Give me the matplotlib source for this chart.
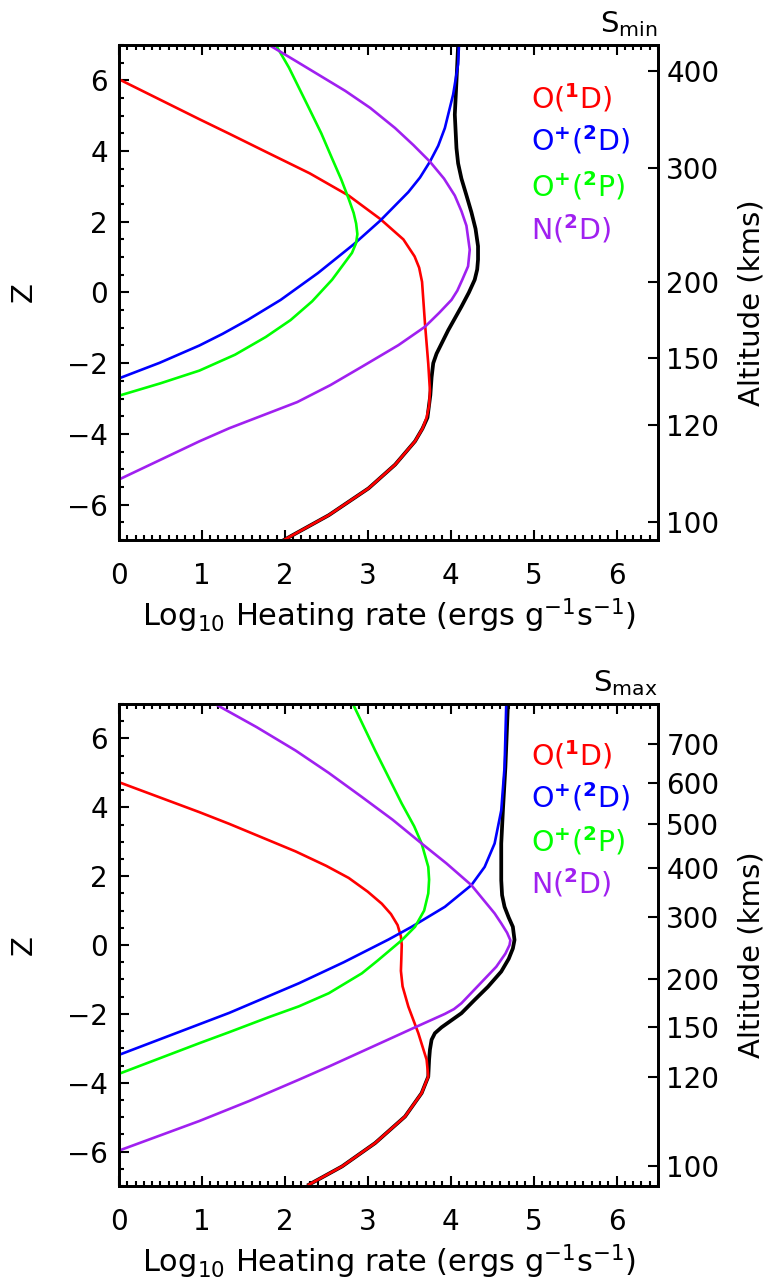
import matplotlib
matplotlib.use("Agg")
import matplotlib.pyplot as plt
from matplotlib.ticker import MultipleLocator

plt.rcParams['font.family'] = ['DejaVu Sans']
plt.rcParams['mathtext.fontset'] = 'dejavusans'

# ---------------- Solar minimum (S_min) profiles: Z vs log10 heating rate ----------------
Z_O1D_MIN = [6.03, 4.90, 4.49, 3.98, 3.37, 2.74, 2.08, 1.50, 1.02, 0.70, 0.30, -0.20,
             -0.87, -2.02, -2.78, -3.20, -3.54, -3.85, -4.21, -4.87, -5.54, -6.30, -7.0]
H_O1D_MIN = [0.0, 0.97, 1.33, 1.77, 2.30, 2.77, 3.15, 3.43, 3.565, 3.62, 3.655, 3.67,
             3.69, 3.73, 3.75, 3.74, 3.71, 3.66, 3.57, 3.33, 3.01, 2.53, 1.99]

Z_OP2D_MIN = [-2.43, -1.99, -1.50, -1.17, -0.78, -0.21, 0.55, 1.36, 2.03, 2.84, 3.25,
              3.70, 4.15, 4.65, 5.6, 6.46, 7.0]
H_OP2D_MIN = [0.0, 0.49, 0.97, 1.25, 1.55, 1.95, 2.40, 2.83, 3.15, 3.49, 3.63,
              3.75, 3.85, 3.93, 4.03, 4.09, 4.10]

Z_OP2P_MIN = [-2.92, -2.57, -2.21, -1.76, -1.26, -0.78, -0.25, 0.36, 0.74, 1.12, 1.40,
              1.65, 1.95, 2.25, 2.65, 3.20, 3.79, 4.50, 5.22, 6.36, 7.05]
H_OP2P_MIN = [0.0, 0.5, 0.97, 1.4, 1.77, 2.07, 2.33, 2.57, 2.69, 2.81, 2.86,
              2.875, 2.86, 2.83, 2.77, 2.68, 2.57, 2.44, 2.29, 2.05, 1.88]

Z_N2D_MIN = [-5.29, -4.21, -3.84, -3.10, -2.62, -2.10, -1.49, -0.97, -0.58, -0.21, 0.05,
             0.36, 0.74, 1.21, 1.89, 2.30, 2.74, 3.22, 3.70, 4.17, 4.65, 5.22, 5.70,
             6.55, 7.0]
H_N2D_MIN = [0.0, 0.97, 1.33, 2.15, 2.55, 2.93, 3.37, 3.69, 3.86, 4.01, 4.08,
             4.14, 4.21, 4.23, 4.19, 4.13, 4.05, 3.92, 3.75, 3.55, 3.33, 3.03, 2.73,
             2.13, 1.81]

Z_TOT_MIN = [-7.0, -6.30, -5.54, -4.87, -4.21, -3.85, -3.54, -2.9, -2.4, -2.0, -1.73,
             -1.40, -1.07, -0.40, 0.0, 0.36, 0.65, 0.93, 1.31, 1.80, 2.27, 2.75, 3.22,
             3.65, 4.08, 5.03, 5.98, 7.0]
H_TOT_MIN = [1.99, 2.53, 3.01, 3.33, 3.57, 3.66, 3.72, 3.755, 3.77, 3.79, 3.83,
             3.90, 3.97, 4.13, 4.22, 4.29, 4.32, 4.33, 4.33, 4.30, 4.25, 4.19, 4.13,
             4.09, 4.07, 4.05, 4.07, 4.09]

ALT_MIN_KM = [100, 120, 150, 200, 300, 400]
ALT_MIN_Z = [-6.49, -3.75, -1.86, 0.31, 3.53, 6.27]

# ---------------- Solar maximum (S_max) profiles ----------------
Z_O1D_MAX = [4.73, 3.86, 3.52, 2.72, 2.30, 1.95, 1.55, 1.20, 0.90, 0.58, 0.25, 0.0,
             -0.40, -0.75, -1.20, -1.79, -2.56, -3.33, -3.82, -4.30, -4.98, -5.75,
             -6.43, -6.96]
H_O1D_MAX = [0.0, 0.97, 1.33, 2.13, 2.50, 2.77, 3.00, 3.17, 3.28, 3.36, 3.40, 3.41,
             3.405, 3.40, 3.42, 3.49, 3.61, 3.71, 3.73, 3.65, 3.45, 3.09,
             2.69, 2.29]

Z_OP2D_MAX = [-3.19, -2.30, -1.97, -1.11, -0.50, 0.16, 0.53, 1.11, 1.74, 2.27,
              2.95, 3.91, 5.17, 6.96]
H_OP2D_MAX = [0.0, 0.97, 1.33, 2.17, 2.71, 3.25, 3.53, 3.93, 4.25, 4.41,
              4.53, 4.61, 4.65, 4.67]

Z_OP2P_MAX = [-3.74, -2.85, -2.53, -2.10, -1.78, -1.40, -0.82, -0.45, 0.14, 0.53,
              1.00, 1.50, 1.90, 2.27, 2.95, 3.45, 4.11, 5.65, 6.96]
H_OP2P_MAX = [0.0, 0.97, 1.33, 1.80, 2.17, 2.53, 2.93, 3.12, 3.41, 3.57,
              3.68, 3.73, 3.74, 3.73, 3.65, 3.56, 3.41, 3.09, 2.83]

Z_N2D_MAX = [-5.97, -5.11, -4.53, -3.91, -3.53, -2.61, -2.39, -2.0, -1.86, -1.69,
             -1.16, -0.63, -0.25, 0.0, 0.14, 0.36, 0.63, 0.92, 1.74, 2.37, 2.95,
             3.64, 4.30, 5.0, 5.65, 6.33, 6.96]
H_N2D_MAX = [0.0, 0.97, 1.57, 2.17, 2.53, 3.37, 3.57, 3.93, 4.04, 4.13,
             4.34, 4.55, 4.66, 4.71, 4.72, 4.68, 4.61, 4.53, 4.25, 3.95, 3.65,
             3.30, 2.93, 2.53, 2.13, 1.66, 1.19]

Z_TOT_MAX = [-6.96, -6.43, -5.75, -4.98, -4.30, -3.82, -3.33, -3.04, -2.75, -2.56,
             -2.39, -1.98, -1.59, -1.21, -0.77, -0.40, -0.10, 0.15, 0.53, 0.80, 1.11,
             1.45, 1.88, 2.95, 3.91, 5.17, 6.96]
H_TOT_MAX = [2.29, 2.69, 3.09, 3.45, 3.65, 3.73, 3.74, 3.75, 3.77, 3.81,
             3.89, 4.13, 4.29, 4.45, 4.61, 4.70, 4.75, 4.77, 4.75, 4.70, 4.65,
             4.62, 4.61, 4.61, 4.63, 4.66, 4.69]

ALT_MAX_KM = [100, 120, 150, 200, 300, 400, 500, 600, 700]
ALT_MAX_Z = [-6.41, -3.83, -2.37, -0.99, 0.82, 2.25, 3.51, 4.70, 5.85]

SPECIES = [r"O($^{\mathbf{1}}$D)", r"O$^{\mathbf{+}}$($^{\mathbf{2}}$D)",
           r"O$^{\mathbf{+}}$($^{\mathbf{2}}$P)", r"N($^{\mathbf{2}}$D)"]
COLORS = ["#ff0000", "#0000ff", "#00ff00", "#a020f0"]

PANELS = [
    dict(tag=r"S$_{\mathregular{min}}$",
         curves=[(Z_O1D_MIN, H_O1D_MIN), (Z_OP2D_MIN, H_OP2D_MIN),
                 (Z_OP2P_MIN, H_OP2P_MIN), (Z_N2D_MIN, H_N2D_MIN)],
         total=(Z_TOT_MIN, H_TOT_MIN), alt=(ALT_MIN_Z, ALT_MIN_KM),
         rect=[0.1543, 0.5798, 0.6991, 0.3852]),
    dict(tag=r"S$_{\mathregular{max}}$",
         curves=[(Z_O1D_MAX, H_O1D_MAX), (Z_OP2D_MAX, H_OP2D_MAX),
                 (Z_OP2P_MAX, H_OP2P_MAX), (Z_N2D_MAX, H_N2D_MAX)],
         total=(Z_TOT_MAX, H_TOT_MAX), alt=(ALT_MAX_Z, ALT_MAX_KM),
         rect=[0.1543, 0.0770, 0.6991, 0.3751]),
]

W, H = 771, 1285
fig = plt.figure(figsize=(W / 100, H / 100), dpi=100)

TICK_FS = 20
LABEL_FS = 21
XLABEL_FS = 22
LEGEND_FS = 20.5
SPINE_LW = 2.0

for p in PANELS:
    ax = fig.add_axes(p["rect"])
    zt, ht = p["total"]
    ax.plot(ht, zt, color="black", lw=2.7, zorder=2, solid_joinstyle="round")
    for (zz, hh), col in zip(p["curves"], COLORS):
        ax.plot(hh, zz, color=col, lw=1.9, zorder=3, solid_joinstyle="round")

    ax.set_xlim(0, 6.5)
    ax.set_ylim(-7, 7)
    ax.xaxis.set_major_locator(MultipleLocator(1))
    ax.xaxis.set_minor_locator(MultipleLocator(0.1))
    ax.yaxis.set_major_locator(MultipleLocator(2))
    ax.yaxis.set_minor_locator(MultipleLocator(0.5))
    ax.tick_params(axis="both", which="both", direction="in", width=1.5,
                   labelsize=TICK_FS)
    ax.tick_params(axis="x", which="both", top=True, bottom=True)
    ax.tick_params(axis="x", which="major", length=7.5, pad=16)
    ax.tick_params(axis="x", which="minor", length=3.8)
    ax.tick_params(axis="y", which="both", left=True, right=False)
    ax.tick_params(axis="y", which="major", length=7.5, pad=8)
    ax.tick_params(axis="y", which="minor", length=3.8)
    for s in ax.spines.values():
        s.set_linewidth(SPINE_LW)

    ax_h_px = p["rect"][3] * H
    ax_w_px = p["rect"][2] * W
    ax.set_xlabel(r"Log$_{10}$ Heating rate (ergs g$^{-1}$s$^{-1}$)",
                  fontsize=XLABEL_FS, va="center")
    ax.xaxis.set_label_coords(0.5, -76 / ax_h_px)
    ax.set_ylabel("Z", fontsize=LABEL_FS, va="center")
    ax.yaxis.set_label_coords(-95 / ax_w_px, 0.5)

    ax.set_title(p["tag"], loc="right", fontsize=LABEL_FS, pad=9)

    # species labels in line colours
    for lab, col, yf in zip(SPECIES, COLORS, [0.872, 0.786, 0.694, 0.606]):
        ax.text(0.764, yf, lab, color=col, fontsize=LEGEND_FS,
                transform=ax.transAxes, ha="left", va="baseline")

    # altitude scale on the right
    az, akm = p["alt"]
    ax2 = ax.twinx()
    ax2.set_ylim(-7, 7)
    ax2.set_yticks(az)
    ax2.set_yticklabels([str(v) for v in akm])
    ax2.tick_params(axis="y", direction="in", length=7.5, width=1.5, pad=6,
                    labelsize=TICK_FS)
    ax2.yaxis.set_minor_locator(plt.NullLocator())
    for s in ax2.spines.values():
        s.set_linewidth(SPINE_LW)
    ax2.set_ylabel("Altitude (kms)", fontsize=LABEL_FS, va="center",
                   rotation=90)
    ax2.yaxis.set_label_coords(1 + (752 - 658) / ax_w_px, 0.48)

fig.savefig("out.png", dpi=100)
